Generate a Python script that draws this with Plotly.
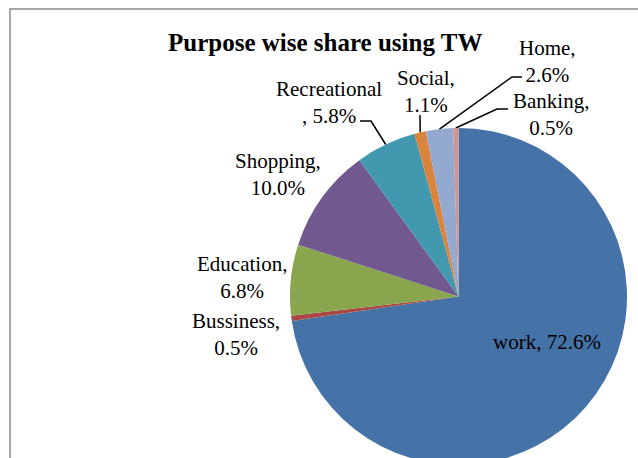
import math
import plotly.graph_objects as go

# ---- data ----
categories = ["work", "Bussiness", "Education", "Shopping", "Recreational", "Social", "Home", "Banking"]
shares = [72.6, 0.5, 6.8, 10.0, 5.8, 1.1, 2.6, 0.5]
title_text = "Purpose wise share using TW"

# ---- styling ----
colors = ["#4572A7", "#AA4643", "#89A54E", "#71588F", "#4198AF", "#DB843D", "#93A9CF", "#D19392"]
# label text layout pattern (where Excel wrapped the label)
label_sep = [", ", ",<br>", ",<br>", ",<br>", "<br>, ", ",<br>", ",<br>", ",<br>"]
# label centres in pixels
label_pos = {
    "work": (547, 342),
    "Bussiness": (236, 334),
    "Education": (242, 277),
    "Shopping": (278, 174),
    "Recreational": (329, 102),
    "Social": (426, 91),
    "Home": (547, 61),
    "Banking": (551, 114),
}
# leader line start / elbow points (pixels) for outside labels
leader_points = {
    "Recreational": [(360, 121), (371, 121)],
    "Social": [(420, 115)],
    "Home": [(522, 77), (512, 77)],
    "Banking": [(508, 109), (497, 109)],
}

W, H = 638, 470
cx, cy, r = 458.5, 296.5, 168.5
FONT = "Liberation Serif, Times New Roman, serif"

fig = go.Figure()

fig.add_trace(go.Pie(
    labels=categories,
    values=shares,
    sort=False,
    direction="clockwise",
    rotation=0,
    textinfo="none",
    hoverinfo="label+percent",
    marker=dict(colors=colors, line=dict(width=0)),
    domain=dict(x=[(cx - r) / W, (cx + r) / W], y=[1 - (cy + r) / H, 1 - (cy - r) / H]),
    showlegend=False,
))

# leader lines: end point on slice edge computed from the data
total = sum(shares)
cum = 0.0
for cat, v in zip(categories, shares):
    frac = (cum + v / 2) / total
    cum += v
    if cat in leader_points:
        ex = cx + r * math.sin(2 * math.pi * frac)
        ey = cy - r * math.cos(2 * math.pi * frac)
        pts = leader_points[cat] + [(ex, ey)]
        fig.add_trace(go.Scatter(
            x=[p[0] for p in pts], y=[p[1] for p in pts],
            mode="lines", line=dict(color="black", width=1.5),
            hoverinfo="skip", showlegend=False,
        ))

annotations = []
for cat, v, sep in zip(categories, shares, label_sep):
    x, y = label_pos[cat]
    annotations.append(dict(
        x=x, y=y, xref="x", yref="y", showarrow=False,
        text=f"{cat}{sep}{v:.1f}%",
        font=dict(family=FONT, size=21, color="black"),
        align="center", xanchor="center", yanchor="middle",
    ))
annotations.append(dict(
    x=325, y=42, xref="x", yref="y", showarrow=False,
    text=f"<b>{title_text}</b>",
    font=dict(family=FONT, size=25, color="black"),
    xanchor="center", yanchor="middle",
))

fig.update_layout(
    width=W, height=H,
    margin=dict(l=0, r=0, t=0, b=0),
    paper_bgcolor="white", plot_bgcolor="rgba(0,0,0,0)",
    xaxis=dict(range=[0, W], domain=[0, 1], visible=False, fixedrange=True),
    yaxis=dict(range=[H, 0], domain=[0, 1], visible=False, fixedrange=True),
    annotations=annotations,
    shapes=[dict(type="rect", xref="x", yref="y", x0=10, y0=9, x1=W + 20, y1=H + 20,
                 line=dict(color="#8c8c8c", width=1.5), fillcolor="rgba(0,0,0,0)", layer="below")],
)

fig.write_html(
    "out.html",
    post_script="document.body.style.margin='0';document.body.style.overflow='hidden';"
                "document.documentElement.style.overflow='hidden';",
)
